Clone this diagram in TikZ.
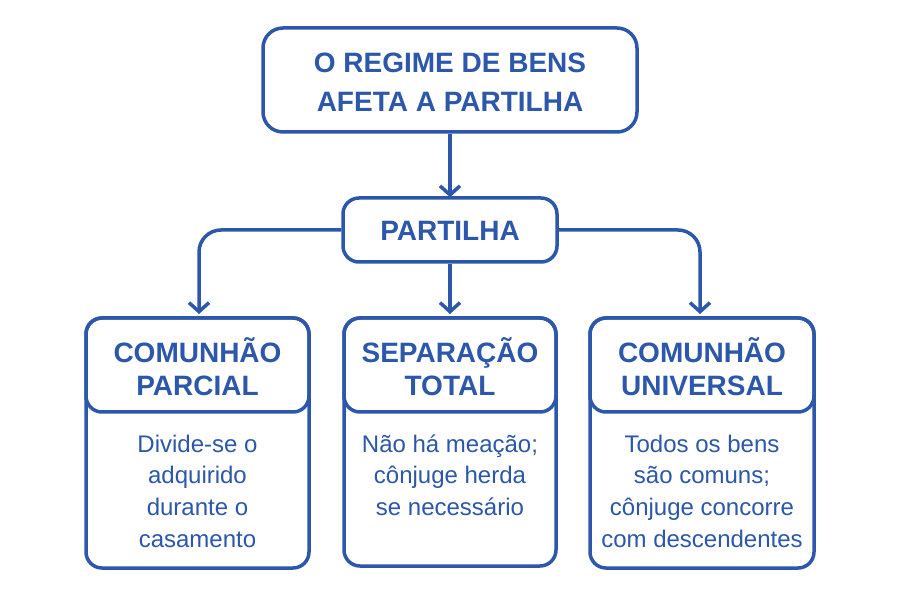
\documentclass[tikz,border=0pt]{standalone}
\usepackage{fontspec}
\setmainfont{Liberation Sans}
\usetikzlibrary{arrows.meta}
\definecolor{mblue}{RGB}{44,87,170}
\begin{document}
\begin{tikzpicture}[x=1pt,y=-1pt,
 box/.style={draw=mblue, line width=3.5pt, rounded corners=16pt, inner sep=0pt},
 conn/.style={draw=mblue, line width=3.5pt, rounded corners=22pt, -{Straight Barb[length=9pt,width=20pt]}},
 ttl/.style={text=mblue, font=\fontsize{28}{39}\selectfont\bfseries, align=center},
 hdr/.style={text=mblue, font=\fontsize{28}{33}\selectfont\bfseries, align=center},
 bdy/.style={text=mblue, font=\fontsize{24}{31.7}\selectfont, align=center}]
\useasboundingbox (0,0) rectangle (900,601);
\fill[white] (0,0) rectangle (900,601);
% top
\node[box, minimum width=374pt, minimum height=104pt, rounded corners=20pt] (top) at (450,80) {};
\node[ttl] (toptxt) at (450,82) {O REGIME DE BENS\\AFETA A PARTILHA};
% partilha
\node[box, minimum width=214pt, minimum height=64pt] (part) at (450,230) {};
\node[ttl] (parttxt) at (450,231) {PARTILHA};
% bottom boxes
\node[box, minimum width=223pt, minimum height=250pt] (b1) at (197.5,443) {};
\node[box, minimum width=223pt, minimum height=94pt] (h1) at (197.5,365) {};
\node[box, minimum width=212pt, minimum height=248pt] (b2) at (450,442) {};
\node[box, minimum width=212pt, minimum height=94pt] (h2) at (450,365) {};
\node[box, minimum width=224pt, minimum height=250pt] (b3) at (702,443) {};
\node[box, minimum width=224pt, minimum height=94pt] (h3) at (702,365) {};
\node[hdr] (t1) at (197.5,367) {COMUNHÃO\\PARCIAL};
\node[hdr] (t2) at (450,367) {SEPARAÇÃO\\TOTAL};
\node[hdr] (t3) at (702,367) {COMUNHÃO\\UNIVERSAL};
\node[bdy] (d1) at (197.5,491) {Divide-se o\\adquirido\\durante o\\casamento};
\node[bdy] (d2) at (450,475) {Não há meação;\\cônjuge herda\\se necessário};
\node[bdy] (d3) at (702,491) {Todos os bens\\são comuns;\\cônjuge concorre\\com descendentes};
% connectors
\coordinate (e1) at (199,314);
\coordinate (e2) at (450,314);
\coordinate (e3) at (700,314);
\draw[conn] (top.south) -- ([yshift=-1pt]part.north);
\draw[conn] (part.west) -- (199,230) -- (e1);
\draw[conn] (part.east) -- (700,230) -- (e3);
\draw[conn] (part.south) -- (e2);
\end{tikzpicture}
\end{document}
